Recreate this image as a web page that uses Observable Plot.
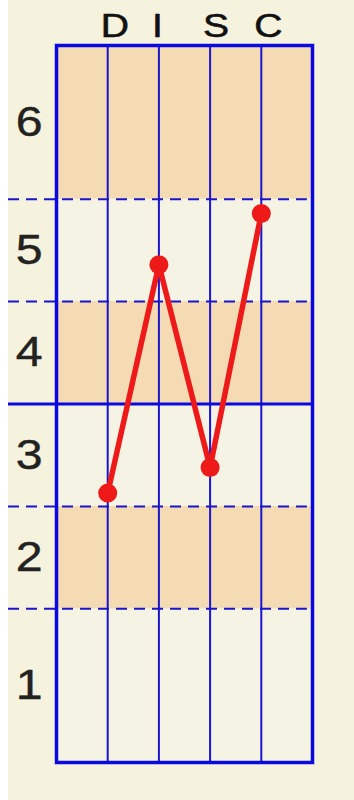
<!DOCTYPE html>
<html>
<head>
<meta charset="utf-8">
<script src="https://cdn.jsdelivr.net/npm/d3@7"></script>
<script src="https://cdn.jsdelivr.net/npm/@observablehq/plot@0.6"></script>
<style>
  html, body { margin: 0; padding: 0; background: #ffffff; }
  #chart { margin-left: 8px; width: 346px; height: 800px; background: #f5f2dd; }
  #chart svg { display: block; }
</style>
</head>
<body>
<div id="chart"></div>
<script>
// Data
const categories = ["D", "I", "S", "C"];
const values = [2.63, 4.86, 2.88, 5.36];
const yTickValues = [0.75, 2, 3, 4, 5, 6.25];
const yTickLabels = ["1", "2", "3", "4", "5", "6"];
const shadedBands = [[1.5, 2.5], [3.5, 4.5], [5.5, 7]];
const dashedLines = [1.5, 2.5, 4.5, 5.5];
const solidLines = [3.5];

const points = categories.map((c, i) => ({cat: c, x: i + 1, y: values[i]}));
const bands = shadedBands.map(([a, b]) => ({y1: a, y2: b}));

const blue = "#1a14cc";
const frameBlue = "#0a0ae0";
const red = "#ee1a1a";

const svg = Plot.plot({
  width: 346,
  height: 800,
  marginLeft: 48,
  marginRight: 42,
  marginTop: 45,
  marginBottom: 38,
  style: {background: "transparent", fontFamily: "'Liberation Sans', Arial, sans-serif", color: "#222"},
  x: {type: "linear", domain: [0, 5], axis: null},
  y: {type: "linear", domain: [0, 7], axis: null},
  marks: [
    Plot.rect([{x1: 0, x2: 5, y1: 0, y2: 7}], {x1: "x1", x2: "x2", y1: "y1", y2: "y2", fill: "#f4f3e4"}),
    Plot.rect(bands, {x1: 0, x2: 5, y1: "y1", y2: "y2", fill: "#f5dbb4"}),
    Plot.ruleX(points, {x: "x", y1: 0, y2: 7, stroke: blue, strokeWidth: 2}),
    Plot.ruleY(dashedLines, {x1: -0.9375, x2: 4.9, stroke: blue, strokeWidth: 2, strokeDasharray: "11,7"}),
    Plot.ruleY(solidLines, {x1: -0.9375, x2: 5, stroke: frameBlue, strokeWidth: 3}),
    Plot.frame({stroke: frameBlue, strokeWidth: 3.5}),
    Plot.line(points, {x: "x", y: "y", stroke: red, strokeWidth: 5.5}),
    Plot.dot(points, {x: "x", y: "y", r: 9.5, fill: red, stroke: "none"}),
    Plot.text(points, {x: "x", y: 7, text: "cat", textAnchor: "start", lineAnchor: "middle", dx: -7, dy: -19, fontSize: 34, fill: "#111", stroke: "#111", strokeWidth: 0.6, className: "toplab"}),
    Plot.text(yTickValues.map((v, i) => ({v, t: yTickLabels[i]})), {x: 0, y: "v", text: "t", textAnchor: "end", lineAnchor: "middle", dx: -14, fontSize: 42, fill: "#222", stroke: "#222", strokeWidth: 0.4, className: "ylab"})
  ]
});

document.getElementById("chart").appendChild(svg);
// widen glyphs horizontally as in the reference
d3.select(svg).selectAll("g.ylab text, g.toplab text").each(function () {
  const t = this.getAttribute("transform") || "";
  this.setAttribute("transform", t + " scale(1.15,1)");
});
</script>
</body>
</html>
